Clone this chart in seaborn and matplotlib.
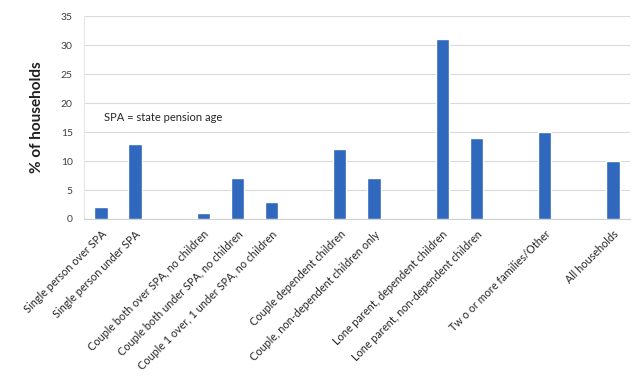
import matplotlib
matplotlib.use("Agg")
import matplotlib.pyplot as plt
import seaborn as sns
import pandas as pd
import numpy as np

# Household types, grouped as they appear on the axis
categories = [
    "Single person over SPA",
    "Single person under SPA",
    "Couple both over SPA, no children",
    "Couple both under SPA, no children",
    "Couple 1 over, 1 under SPA, no children",
    "Couple dependent children",
    "Couple, non-dependent children only",
    "Lone parent, dependent children",
    "Lone parent, non-dependent children",
    "Tw o or more families/Other",
    "All households",
]
values = [2, 13, 1, 7, 3, 12, 7, 31, 14, 15, 10]
groups = [0, 0, 1, 1, 1, 2, 2, 3, 3, 4, 5]
y_ticks = [0, 5, 10, 15, 20, 25, 30, 35]

df = pd.DataFrame({"category": categories, "value": values, "group": groups})

# Category order with an empty slot between groups
order = []
for i, (cat, g) in enumerate(zip(categories, groups)):
    if i > 0 and g != groups[i - 1]:
        order.append(f"_gap{g}")
    order.append(cat)

sns.set_style("white")
plt.rcParams["font.family"] = ["Lato", "DejaVu Sans"]

fig = plt.figure(figsize=(6.35, 3.76), dpi=100)
ax = fig.add_axes([0.132, 0.4176, 0.860, 0.5394])

sns.barplot(data=df, x="category", y="value", order=order, color="#3068BE",
            width=0.39, saturation=1, ax=ax, zorder=3)

ax.set_ylim(0, 35)
ax.set_xlim(-0.5, len(order) - 0.5)
ax.set_yticks(y_ticks)
ax.set_yticklabels([str(t) for t in y_ticks], fontsize=7.5, color="#404040")
ax.yaxis.grid(True, color="#DADADA", linewidth=0.8, zorder=0)
ax.set_axisbelow(True)

ax.set_xticks(range(len(order)))
ax.set_xticklabels(["" if o.startswith("_gap") else o for o in order],
                   rotation=45, ha="right", rotation_mode="anchor",
                   fontsize=7.8, color="#262626")
ax.tick_params(axis="x", length=0, pad=7)
ax.tick_params(axis="y", length=0, pad=8)

for s in ["top", "right"]:
    ax.spines[s].set_visible(False)
ax.spines["left"].set_color("#E6E6E6")
ax.spines["left"].set_linewidth(0.8)
ax.spines["bottom"].set_color("#D0D0D0")
ax.spines["bottom"].set_linewidth(0.8)

ax.set_xlabel("")
ax.set_ylabel("% of households", fontsize=11, fontweight="bold", color="#202020",
              labelpad=12)

ax.text(0.1, 17.5, "SPA = state pension age", fontsize=8, color="#262626",
        va="center", ha="left")

fig.savefig("out.png", dpi=100)
